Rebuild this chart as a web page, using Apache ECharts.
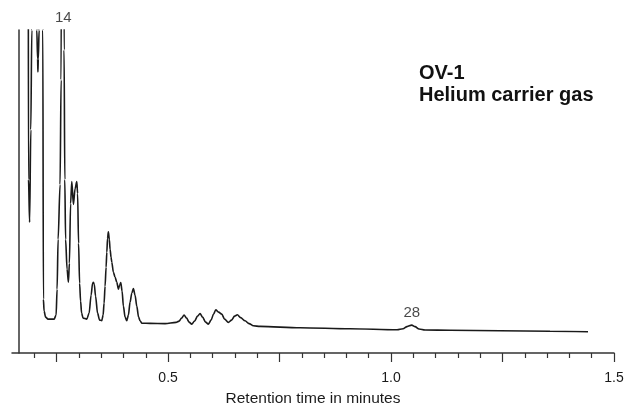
<!DOCTYPE html>
<html>
<head>
<meta charset="utf-8">
<title>OV-1 chromatogram</title>
<script src="https://cdn.jsdelivr.net/npm/echarts@6/dist/echarts.min.js"></script>
<style>
  html, body { margin: 0; padding: 0; background: #fff; }
  #chart { width: 627px; height: 412px; }
</style>
</head>
<body>
<div id="chart"></div>
<script>
// retention time (min) and detector signal (arbitrary units, off-scale peaks run past the top)
const retentionTime = [
  0.1659, 0.1861, 0.1870, 0.1895, 0.1922, 0.1944, 0.1955,
  0.2045, 0.2056, 0.2074, 0.2081, 0.2090, 0.2108, 0.2119,
  0.2179, 0.2191, 0.2204, 0.2220, 0.2253, 0.2309, 0.2444, 0.2489,
  0.2511, 0.2534, 0.2578, 0.2601, 0.2619, 0.2657, 0.2668, 0.2684, 0.2702,
  0.2735, 0.2765, 0.2787, 0.2814, 0.2841, 0.2877, 0.2915, 0.2953,
  0.2971, 0.2993, 0.3016, 0.3038, 0.3061, 0.3094, 0.3177,
  0.3229, 0.3274, 0.3307, 0.3325, 0.3345, 0.3374, 0.3419, 0.3464, 0.3513,
  0.3543, 0.3565, 0.3587, 0.3610, 0.3626, 0.3643, 0.3661, 0.3682, 0.3700,
  0.3722, 0.3738, 0.3774, 0.3812, 0.3850, 0.3886, 0.3913, 0.3939, 0.3969,
  0.3998, 0.4036, 0.4074, 0.4110, 0.4148, 0.4186, 0.4222, 0.4260, 0.4298,
  0.4339, 0.4372, 0.4410, 0.4596, 0.4933,
  0.5179, 0.5247, 0.5303, 0.5359, 0.5415, 0.5471, 0.5531, 0.5594, 0.5661,
  0.5717, 0.5774, 0.5841, 0.5904, 0.5964, 0.6020, 0.6070, 0.6132, 0.6204,
  0.6267, 0.6352, 0.6424, 0.6491, 0.6554, 0.6626, 0.6726, 0.6816, 0.6913,
  0.7063, 0.7960, 0.9081, 1.0135, 1.0269, 1.0359, 1.0464, 1.0538, 1.0628,
  1.0762, 1.1323, 1.2444, 1.3565, 1.4417
];
const detectorSignal = [
  600, 600, 174, 131, 224, 324, 600,
  600, 324, 295, 282, 295, 324, 600,
  600, 324, 54, 42, 36, 34, 34, 38,
  64, 114, 169, 274, 600, 600, 304, 174, 114,
  84, 71, 90, 150, 172, 149, 165, 172,
  160, 110, 70, 52, 40, 35, 34,
  40, 58, 70, 71, 69, 57, 40, 33, 32.5,
  38, 50, 67, 86, 101, 115, 121.7, 114, 104,
  96, 91, 81, 76, 71, 64, 68, 70.7, 62,
  47, 36, 32.3, 38, 51, 60, 64.7, 58, 47,
  36, 32.3, 30, 29.7, 29.5,
  30.7, 32, 35, 38, 35, 31, 29, 32, 37,
  39.5, 36, 31, 29, 33, 39, 43.3, 41, 39,
  34, 30.7, 33, 37, 38.3, 35.5, 32.3, 29.5, 27.3,
  26.7, 25.3, 24.3, 23.3, 24.3, 26.5, 28, 26.5, 24,
  23, 22.8, 22.3, 21.8, 21.3
];

// numbered peaks
const peakLabels = ['14', '28'];
const peakTimes = [0.2652, 1.0464];
const peakHeights = [324, 28];

// x axis ticks
const minorTickValues = [
  0.2, 0.3, 0.35, 0.4, 0.45, 0.55, 0.6, 0.65, 0.7, 0.8, 0.85, 0.9, 0.95,
  1.05, 1.1, 1.15, 1.2, 1.3, 1.35, 1.4, 1.45
];
const majorTickValues = [0.25, 0.5, 0.75, 1.0, 1.25, 1.5];
const tickLabelValues = [0.5, 1.0, 1.5];

const font = "'Liberation Sans', Arial, sans-serif";
const ink = '#1a1a1a';

const chart = echarts.init(document.getElementById('chart'));

chart.setOption({
  animation: false,
  title: [
    {
      text: 'OV-1', left: 419, top: 63, padding: 0,
      textStyle: { fontFamily: font, fontSize: 20, fontWeight: 'bold', color: '#111' }
    },
    {
      text: 'Helium carrier gas', left: 419, top: 85, padding: 0,
      textStyle: { fontFamily: font, fontSize: 20, fontWeight: 'bold', color: '#111' }
    }
  ],
  grid: { left: 12, right: 13, top: 30, bottom: 58 },
  xAxis: [
    {
      type: 'value', min: 0.15, max: 1.5,
      name: 'Retention time in minutes',
      nameLocation: 'middle', nameGap: 38,
      nameTextStyle: { fontFamily: font, fontSize: 15.5, color: ink },
      axisLine: { show: true, lineStyle: { color: '#333', width: 1.5 } },
      axisTick: { show: true, length: 5, customValues: minorTickValues,
        lineStyle: { color: '#333', width: 1.2 } },
      axisLabel: { show: false },
      splitLine: { show: false }
    },
    {
      type: 'value', min: 0.15, max: 1.5, position: 'bottom',
      axisLine: { show: false },
      axisTick: { show: true, length: 9, customValues: majorTickValues,
        lineStyle: { color: '#333', width: 1.2 } },
      axisLabel: {
        show: true, margin: 18, customValues: tickLabelValues,
        fontFamily: font, fontSize: 14, color: ink,
        formatter: v => v.toFixed(1)
      },
      splitLine: { show: false }
    }
  ],
  yAxis: {
    type: 'value', min: 0, max: 324, offset: -6.6,
    axisLine: { show: true, lineStyle: { color: '#333', width: 1.5 } },
    axisTick: { show: false },
    axisLabel: { show: false },
    splitLine: { show: false }
  },
  series: [
    {
      type: 'line',
      data: retentionTime.map((t, i) => [t, detectorSignal[i]]),
      showSymbol: false,
      smooth: 0.3,
      smoothMonotone: 'x',
      clip: true,
      lineStyle: { color: ink, width: 1.6 }
    },
    {
      type: 'scatter',
      clip: false,
      symbolSize: 0,
      data: peakLabels.map((name, i) => ({ name, value: [peakTimes[i], peakHeights[i]] })),
      label: {
        show: true, position: 'top', distance: 5,
        formatter: p => p.name,
        fontFamily: font, fontSize: 15, color: ink
      }
    }
  ]
});
</script>
</body>
</html>
